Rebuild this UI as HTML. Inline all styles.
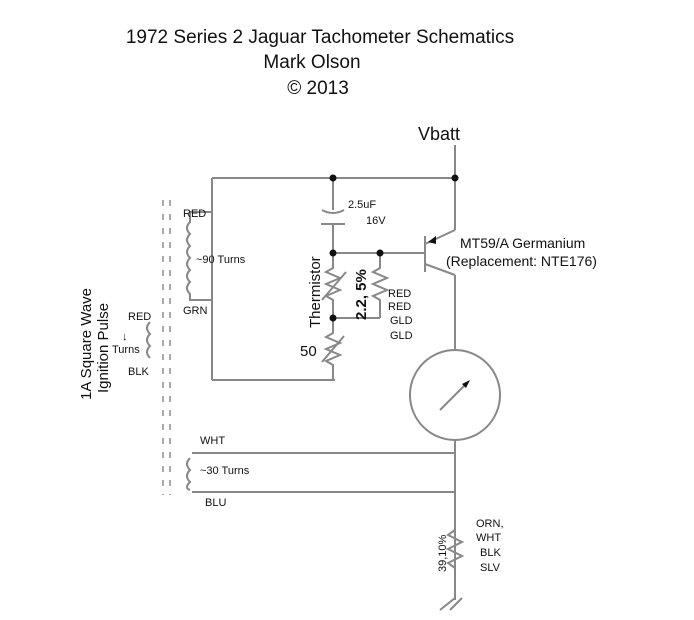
<!DOCTYPE html>
<html><head><style>
body{margin:0;background:#fff}
svg{display:block}
text{font-family:"Liberation Sans",sans-serif;fill:#111}
</style></head><body>
<svg width="694" height="620" viewBox="0 0 694 620">
<g stroke="#888" stroke-width="2" fill="none">
<line x1="212" y1="178" x2="455" y2="178"/>
<line x1="455" y1="145" x2="455" y2="230"/>
<line x1="212" y1="178" x2="212" y2="380"/>
<line x1="212" y1="380" x2="335" y2="380"/>
<line x1="333" y1="178" x2="333" y2="210"/>
<path d="M322 210 Q333 216 344 210"/>
<line x1="321" y1="224" x2="345" y2="224"/>
<line x1="333" y1="224" x2="333" y2="253"/>
<line x1="333" y1="253" x2="425" y2="253"/>
<line x1="425" y1="236" x2="425" y2="272"/>
<line x1="425" y1="244" x2="455" y2="230"/>
<line x1="425" y1="264" x2="455" y2="275"/>
<line x1="455" y1="275" x2="455" y2="350"/>
<circle cx="455" cy="395" r="45"/>
<line x1="440" y1="410" x2="468" y2="382"/>
<line x1="455" y1="440" x2="455" y2="600"/>
<line x1="192" y1="453" x2="455" y2="453"/>
<line x1="192" y1="492" x2="455" y2="492"/>
<path d="M333 253 V268 L326 272 L340 278 L326 284 L340 290 L326 296 L333 300 V318"/>
<line x1="322" y1="300" x2="346" y2="272"/>
<path d="M380 253 V268 L373 272 L387 278 L373 284 L387 290 L373 296 L380 300 V318"/>
<line x1="333" y1="318" x2="380" y2="318"/>
<path d="M333 318 V333 L326 337 L340 343 L326 349 L340 355 L326 361 L333 365 V380"/>
<line x1="322" y1="362" x2="344" y2="336"/>
<path d="M212 212 H190 V222 Q184 228 190 234 Q184 240 190 246 Q184 252 190 258 Q184 264 190 270 Q184 276 190 282 Q184 288 190 294 V300 H212"/>
<path d="M190 458 Q184 464 190 470 Q184 476 190 482 Q184 488 190 490"/>
<path d="M150 322 Q144 328 150 334 Q144 340 150 346 Q144 352 150 358"/>
<path d="M455 530 L448 535 L462 542 L448 549 L462 556 L448 563 L455 568"/>
<line x1="440" y1="610" x2="455" y2="598"/>
<line x1="450" y1="610" x2="462" y2="598"/>
</g>
<g stroke="#aaa" stroke-width="2" stroke-dasharray="6,8">
<line x1="163" y1="200" x2="163" y2="495"/>
<line x1="170" y1="200" x2="170" y2="495"/>
</g>
<g fill="#111">
<circle cx="333" cy="178" r="3.5"/><circle cx="455" cy="178" r="3.5"/>
<circle cx="333" cy="253" r="3.5"/><circle cx="380" cy="253" r="3.5"/>
<circle cx="333" cy="318" r="3.5"/>
<path d="M470 380 L462 384 L466 388 Z"/>
<path d="M428 242 L436 236 L436 244 Z"/>
</g>
<text x="320" y="43" font-size="19" text-anchor="middle">1972 Series 2 Jaguar Tachometer Schematics</text>
<text x="312" y="68" font-size="19" text-anchor="middle">Mark Olson</text>
<text x="318" y="94" font-size="19" text-anchor="middle">© 2013</text>
<text x="418" y="140" font-size="18">Vbatt</text>
<text x="348" y="208" font-size="11">2.5uF</text>
<text x="366" y="224" font-size="11">16V</text>
<text x="460" y="248" font-size="14">MT59/A Germanium</text>
<text x="446" y="266" font-size="14">(Replacement: NTE176)</text>
<text x="183" y="217" font-size="11">RED</text>
<text x="196" y="263" font-size="11">~90 Turns</text>
<text x="183" y="314" font-size="11">GRN</text>
<text x="388" y="297" font-size="11">RED</text>
<text x="388" y="310" font-size="11">RED</text>
<text x="390" y="324" font-size="11">GLD</text>
<text x="390" y="339" font-size="11">GLD</text>
<text x="300" y="356" font-size="15">50</text>
<text transform="translate(320,328) rotate(-90)" font-size="15">Thermistor</text>
<text transform="translate(366,320) rotate(-90)" font-size="15" font-weight="bold">2.2, 5%</text>
<text transform="translate(91,400) rotate(-90)" font-size="15">1A Square Wave</text>
<text transform="translate(108,393) rotate(-90)" font-size="15">Ignition Pulse</text>
<text x="128" y="320" font-size="11">RED</text>
<text x="122" y="340" font-size="11">↓</text>
<text x="112" y="353" font-size="11">Turns</text>
<text x="128" y="375" font-size="11">BLK</text>
<text x="200" y="444" font-size="11">WHT</text>
<text x="200" y="474" font-size="11">~30 Turns</text>
<text x="205" y="506" font-size="11">BLU</text>
<text transform="translate(446,572) rotate(-90)" font-size="11">39,10%</text>
<text x="476" y="527" font-size="11">ORN,</text>
<text x="476" y="541" font-size="11">WHT</text>
<text x="480" y="556" font-size="11">BLK</text>
<text x="480" y="571" font-size="11">SLV</text>
</svg>
</body></html>
